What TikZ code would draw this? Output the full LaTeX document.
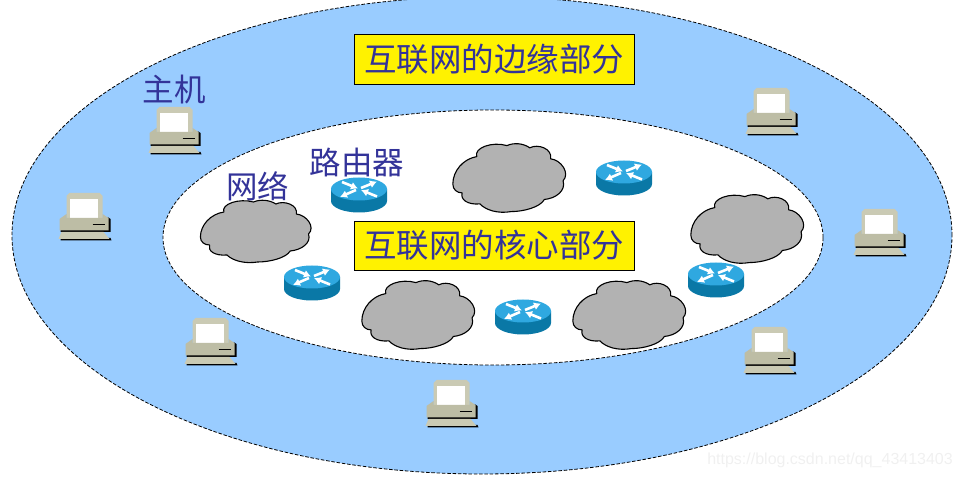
\documentclass[tikz,border=0pt]{standalone}
\usepackage{fontspec}
\setmainfont{Liberation Sans}
\newfontfamily\cjk{Noto Sans CJK SC}[Scale=1]
\usetikzlibrary{arrows.meta}
\definecolor{ringblue}{HTML}{99CCFF}
\definecolor{labelblue}{HTML}{333399}
\definecolor{cloudgray}{HTML}{B2B2B2}
\definecolor{pcbody}{HTML}{BDBDA5}
\definecolor{pclight}{HTML}{CACAB4}
\definecolor{routertop}{HTML}{2FA8E0}
\definecolor{routerside}{HTML}{0A78A6}
\tikzset{
  x=1pt,y=-1pt,
  zonering/.style={draw=black,line width=0.8pt,dash pattern=on 3.5pt off 1.8pt},
  titlebox/.style={draw=black,line width=0.8pt,fill=yellow,minimum width=280pt,inner sep=0pt,text=labelblue,font=\cjk\fontsize{32.5}{36}\selectfont},
  lab/.style={text=labelblue,inner sep=0pt,font=\cjk\fontsize{31.5}{35}\selectfont},
  watermark/.style={text=black!6,inner sep=0pt,font=\fontsize{16}{18}\selectfont},
  routerarrow/.style={draw=white,line width=2.6pt,-{Latex[length=7pt,width=8pt]}},
  pc/.pic={
    \fill[black] (24,1) -- (27,3) -- (27,16) -- (-23,16) -- (-23,13) -- (24,13) -- cycle;
    \fill[black] (-23,22) -- (27,22) -- (28,24.5) -- (-23,24.5) -- cycle;
    \fill[pclight] (-17,-20) -- (-14,-23) -- (16,-23) -- (19,-20) -- (19,3) -- (-17,3) -- cycle;
    \fill[white] (-14,-17) -- (14,-17) -- (14,2) -- (-14,2) -- cycle;
    \fill[pcbody] (-24,3) -- (-17,-2) -- (-17,2) -- (19,2) -- (19,-2) -- (25,2) -- (25,14.5) -- (-24,14.5) -- cycle;
    \draw[black,line width=0.9pt] (9,8) -- (21,8);
    \fill[pclight] (-22,16) -- (20,16) -- (26,23) -- (-25,23) -- cycle;
  },
  routerpic/.pic={
    \fill[routerside] (-28,-6) -- (-28,6) .. controls (-28,12.4) and (-15.5,17.5) .. (0,17.5)
       .. controls (15.5,17.5) and (28,12.4) .. (28,6) -- (28,-6) -- cycle;
    \fill[routertop] (-28,-6) .. controls (-28,-12.4) and (-15.5,-17.5) .. (0,-17.5)
       .. controls (15.5,-17.5) and (28,-12.4) .. (28,-6)
       .. controls (28,0.4) and (15.5,5.5) .. (0,5.5)
       .. controls (-15.5,5.5) and (-28,0.4) .. (-28,-6) -- cycle;
    \draw[routerarrow] (-17,-13) -- (-1,-6.5);
    \draw[routerarrow] (2,-7) -- (18,-13.5);
    \draw[routerarrow] (-3,-5) -- (-19,2);
    \draw[routerarrow] (18,1.5) -- (2,-5);
  },
  cloudpic/.pic={
    \draw[black,line width=1.1pt,fill=cloudgray,line join=round]
      (-54,6) .. controls (-54,-6) and (-44,-17) .. (-31,-19)
      .. controls (-34,-27) and (-16,-33) .. (-2,-29)
      .. controls (5,-32) and (14,-31) .. (20,-27)
      .. controls (28,-31) and (42,-26) .. (40,-17)
      .. controls (50,-16) and (59,-4) .. (52,3)
      .. controls (55,12) and (45,19) .. (34,20)
      .. controls (30,27) and (14,31) .. (2,31)
      .. controls (-10,33) and (-22,30) .. (-28,24)
      .. controls (-40,25) and (-47,20) .. (-45,14)
      .. controls (-50,14) and (-54,11) .. cycle;
  },
  bigcloud/.style={xscale=1.04,yscale=1.1}
}
\begin{document}
\begin{tikzpicture}
\useasboundingbox (0,0) rectangle (962,478);
\clip (0,0) rectangle (962,478);
\path[zonering,fill=ringblue] (482,235.3) ellipse [x radius=470pt,y radius=238.7pt];
\path[zonering,fill=white] (493,237.5) ellipse [x radius=330pt,y radius=127.5pt];

\node[titlebox,minimum height=50pt] (edge) at (494,59) {互联网的边缘部分};
\node[titlebox,minimum height=49pt] (core) at (494,245.5) {互联网的核心部分};

\node[lab] (hostlabel) at (174,90) {主机};
\node[lab] (netlabel) at (257.5,186) {网络};
\node[lab] (routerlabel) at (357,163) {路由器};

\path (173.5,130) pic {pc};
\path (83.5,216) pic {pc};
\path (209.5,341) pic {pc};
\path (450.5,403) pic {pc};
\path (768.5,350) pic {pc};
\path (878.5,232) pic {pc};
\path (770.5,111) pic {pc};

\path (255.5,231) pic[xscale=1.02] {cloudpic};
\path (509,177.5) pic[bigcloud] {cloudpic};
\path (747,228.5) pic[bigcloud] {cloudpic};
\path (418,314.5) pic[bigcloud] {cloudpic};
\path (629,314.5) pic[bigcloud] {cloudpic};

\path (359,195) pic {routerpic};
\path (624,178) pic {routerpic};
\path (312,283) pic {routerpic};
\path (523,317) pic {routerpic};
\path (716,280) pic {routerpic};

\node[watermark,anchor=east] (mark) at (953,460) {https://blog.csdn.net/qq\_43413403};
\end{tikzpicture}
\end{document}
